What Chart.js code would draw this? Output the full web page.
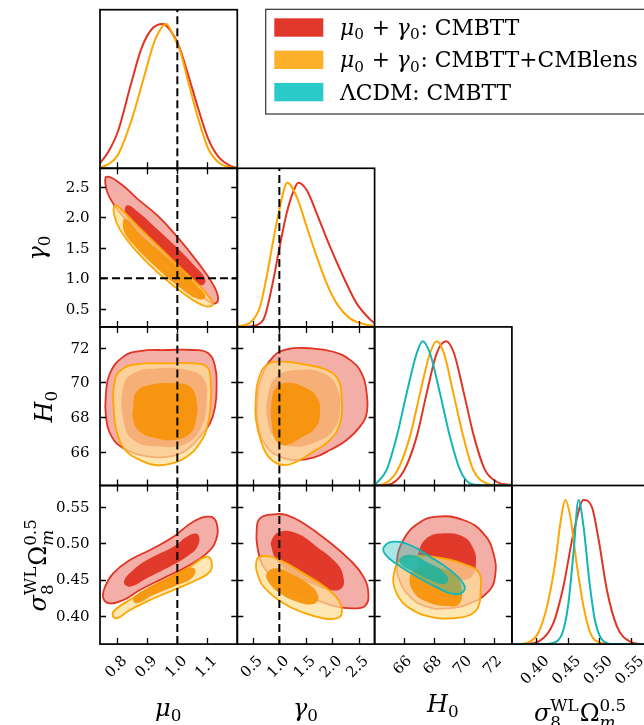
<!DOCTYPE html>
<html>
<head>
<meta charset="utf-8">
<script src="https://cdn.jsdelivr.net/npm/chart.js@4.4.1/dist/chart.umd.min.js"></script>
<style>
html, body { margin: 0; padding: 0; background: #fff; }
#fig { position: relative; width: 644px; height: 725px; overflow: hidden; background: #fff; }
#fig canvas { position: absolute; left: 0; top: 0; }
</style>
</head>
<body>
<div id="fig"></div>
<script>
// axes: 0 = mu0, 1 = gamma0, 2 = H0, 3 = sigma8^WL Omega_m^0.5
const axisRanges = [[0.742, 1.2], [0.205, 2.8], [64.07, 73.2], [0.3615, 0.579]];
const axisTicks = [[0.8, 0.9, 1.0, 1.1], [0.5, 1.0, 1.5, 2.0, 2.5], [66, 68, 70, 72], [0.40, 0.45, 0.50, 0.55]];
const axisTickLabels = [['0.8', '0.9', '1.0', '1.1'], ['0.5', '1.0', '1.5', '2.0', '2.5'], ['66', '68', '70', '72'], ['0.40', '0.45', '0.50', '0.55']];
const densityRange = [0, 1.1];
const fiducial = [1.0, 1.0, null, null]; // dashed reference lines

// 1D marginals (normalised to peak 1)
const muRed = [[0.742,0.035],[0.770,0.115],[0.802,0.257],[0.846,0.590],[0.880,0.830],[0.913,0.961],[0.952,1.0],[0.991,0.91],[1.008,0.834],[1.036,0.649],[1.069,0.418],[1.102,0.21],[1.136,0.083],[1.18,0.014],[1.2,0.003]];
const muOrange = [[0.742,0.003],[0.775,0.035],[0.802,0.094],[0.846,0.326],[0.891,0.649],[0.924,0.881],[0.963,1.0],[0.991,0.90],[1.008,0.823],[1.036,0.603],[1.069,0.349],[1.102,0.141],[1.136,0.044],[1.175,0.007],[1.2,0.001]];
const gammaRed = [[0.205,0],[0.45,0.002],[0.571,0.012],[0.697,0.05],[0.760,0.117],[0.886,0.325],[1.012,0.568],[1.138,0.788],[1.264,0.938],[1.359,1.0],[1.516,0.949],[1.705,0.788],[1.957,0.556],[2.209,0.348],[2.461,0.163],[2.714,0.052],[2.8,0.025]];
const gammaOrange = [[0.205,0.004],[0.445,0.029],[0.634,0.140],[0.760,0.348],[0.886,0.603],[1.012,0.834],[1.151,1.0],[1.327,0.903],[1.516,0.695],[1.705,0.487],[1.894,0.302],[2.083,0.163],[2.335,0.059],[2.588,0.020],[2.8,0.005]];
const h0Red = [[64.07,0],[64.87,0.003],[65.98,0.096],[66.87,0.339],[67.53,0.639],[68.20,0.917],[68.82,1.0],[69.35,0.917],[70.01,0.639],[70.68,0.339],[71.41,0.108],[72.19,0.026],[73.14,0.003],[73.2,0.002]];
const h0Orange = [[64.07,0],[64.43,0.003],[65.54,0.096],[66.42,0.339],[67.09,0.639],[67.75,0.917],[68.20,1.0],[68.68,0.917],[69.31,0.639],[69.97,0.339],[70.63,0.108],[71.52,0.015],[72.41,0.002],[73.2,0]];
const h0Cyan = [[64.07,0.002],[64.87,0.108],[65.54,0.339],[66.20,0.639],[66.87,0.917],[67.26,1.0],[67.75,0.917],[68.42,0.639],[69.08,0.339],[69.75,0.108],[70.41,0.015],[71.30,0.002],[73.2,0]];
const sigmaRed = [[0.3615,0],[0.380,0],[0.406,0.024],[0.427,0.144],[0.443,0.398],[0.459,0.768],[0.475,1.0],[0.488,0.953],[0.499,0.722],[0.512,0.375],[0.528,0.121],[0.549,0.017],[0.570,0],[0.579,0]];
const sigmaOrange = [[0.3615,0],[0.369,0],[0.390,0.017],[0.403,0.075],[0.417,0.260],[0.430,0.560],[0.439,0.861],[0.446,1.0],[0.454,0.884],[0.464,0.560],[0.475,0.260],[0.486,0.075],[0.501,0.010],[0.522,0],[0.579,0]];
const sigmaCyan = [[0.3615,0],[0.411,0],[0.432,0.017],[0.443,0.098],[0.451,0.283],[0.459,0.630],[0.467,1.0],[0.475,0.814],[0.484,0.444],[0.493,0.167],[0.504,0.033],[0.522,0],[0.579,0]];

// 2D contours (68% and 95%)
const muGamRed95 = [[0.766,2.663],[0.813,2.538],[0.869,2.292],[0.935,2.020],[1.002,1.665],[1.069,1.256],[1.119,0.901],[1.136,0.683],[1.127,0.590],[1.102,0.628],[1.058,0.820],[1.002,1.092],[0.935,1.420],[0.869,1.747],[0.813,2.047],[0.774,2.320],[0.760,2.538]];
const muGamRed68 = [[0.833,2.194],[0.869,2.085],[0.924,1.845],[0.991,1.540],[1.058,1.201],[1.093,0.983],[1.082,0.885],[1.041,1.010],[0.974,1.283],[0.908,1.583],[0.852,1.845],[0.826,2.074]];
const muGamOr95 = [[0.793,2.194],[0.819,2.10],[0.863,1.88],[0.930,1.56],[1.002,1.21],[1.069,0.90],[1.105,0.70],[1.119,0.574],[1.091,0.547],[1.024,0.738],[0.935,1.092],[0.858,1.474],[0.808,1.801],[0.789,2.047]];
const muGamOr68 = [[0.826,1.976],[0.880,1.70],[0.947,1.42],[1.013,1.13],[1.069,0.86],[1.093,0.70],[1.069,0.66],[1.002,0.874],[0.924,1.201],[0.858,1.529],[0.822,1.774]];

const muH0Red95 = [[0.775,70.53],[0.820,71.49],[0.875,71.81],[0.964,71.87],[1.053,71.87],[1.103,71.68],[1.126,70.91],[1.131,69.76],[1.126,68.61],[1.109,67.65],[1.075,66.88],[1.031,66.11],[0.987,65.77],[0.931,65.69],[0.875,65.83],[0.820,66.21],[0.781,66.88],[0.762,68.03],[0.762,69.38]];
const muH0Red68 = [[0.820,69.76],[0.853,70.53],[0.931,70.81],[1.031,70.72],[1.087,70.24],[1.098,68.99],[1.081,67.46],[1.031,66.50],[0.942,66.31],[0.853,66.69],[0.820,67.84]];
const muH0Or95 = [[0.792,70.14],[0.820,70.82],[0.875,71.07],[0.964,71.10],[1.053,71.10],[1.098,70.91],[1.111,70.14],[1.111,68.80],[1.100,67.46],[1.075,66.50],[1.031,65.73],[0.975,65.31],[0.925,65.25],[0.875,65.54],[0.831,66.02],[0.803,66.88],[0.789,68.22]];
const muH0Or68 = [[0.853,68.61],[0.864,69.47],[0.909,69.86],[0.987,69.95],[1.042,69.76],[1.064,68.99],[1.062,67.84],[1.042,67.07],[0.987,66.69],[0.931,66.79],[0.875,67.17],[0.853,67.84]];

const muSigRed95 = [[0.759,0.4403],[0.786,0.4586],[0.842,0.4768],[0.909,0.4905],[0.987,0.5088],[1.053,0.5294],[1.109,0.5363],[1.131,0.5271],[1.129,0.5043],[1.098,0.4860],[1.031,0.4677],[0.953,0.4517],[0.875,0.4357],[0.820,0.4220],[0.775,0.4174],[0.753,0.4243]];
const muSigRed68 = [[0.822,0.4471],[0.853,0.4631],[0.909,0.4791],[0.987,0.4951],[1.042,0.5111],[1.070,0.5111],[1.067,0.4951],[1.031,0.4814],[0.964,0.4654],[0.898,0.4517],[0.842,0.4403]];
const muSigOr95 = [[0.792,0.4083],[0.831,0.4197],[0.898,0.4357],[0.975,0.4517],[1.042,0.4677],[1.098,0.4814],[1.114,0.4746],[1.109,0.4608],[1.064,0.4494],[0.987,0.4357],[0.909,0.4220],[0.842,0.4083],[0.798,0.3969],[0.784,0.4014]];
const muSigOr68 = [[0.853,0.4243],[0.898,0.4380],[0.964,0.4517],[1.031,0.4654],[1.059,0.4640],[1.048,0.4517],[0.987,0.4403],[0.920,0.4289],[0.864,0.4174]];

const gamH0Red95 = [[0.666,70.34],[0.886,71.49],[1.138,71.91],[1.579,71.97],[2.020,71.77],[2.335,71.30],[2.556,70.53],[2.650,69.38],[2.650,68.23],[2.524,67.46],[2.273,66.69],[1.957,66.11],[1.642,65.67],[1.327,65.54],[1.012,65.73],[0.760,66.31],[0.603,67.46],[0.584,68.99]];
const gamH0Red68 = [[0.792,69.38],[0.949,70.34],[1.327,70.72],[1.831,70.53],[2.083,69.76],[2.146,68.42],[2.020,67.27],[1.705,66.59],[1.264,66.31],[0.949,66.69],[0.773,67.84]];
const gamH0Or95 = [[0.603,70.14],[0.760,71.01],[1.075,71.20],[1.516,71.01],[1.894,70.72],[2.115,70.14],[2.178,68.99],[2.146,67.65],[1.957,66.69],[1.642,66.02],[1.327,65.44],[1.075,65.25],[0.823,65.63],[0.666,66.50],[0.558,67.84],[0.558,69.19]];
const gamH0Or68 = [[0.855,68.99],[0.949,69.76],[1.138,69.99],[1.453,69.76],[1.705,69.18],[1.768,68.22],[1.674,67.36],[1.390,66.79],[1.138,66.40],[0.949,66.59],[0.855,67.65]];

const gamSigRed95 = [[0.571,0.5180],[0.634,0.5340],[0.886,0.5394],[1.138,0.5385],[1.453,0.5271],[1.894,0.5043],[2.335,0.4768],[2.588,0.4540],[2.682,0.4311],[2.619,0.4138],[2.398,0.4105],[2.083,0.4128],[1.705,0.4220],[1.264,0.4357],[0.949,0.4494],[0.697,0.4677],[0.584,0.4951]];
const gamSigRed68 = [[0.855,0.5043],[1.012,0.5157],[1.327,0.5134],[1.705,0.4951],[2.083,0.4723],[2.209,0.4540],[2.178,0.4380],[1.957,0.4357],[1.579,0.4448],[1.201,0.4585],[0.949,0.4768],[0.855,0.4928]];
const gamSigOr95 = [[0.571,0.4768],[0.697,0.4823],[1.012,0.4768],[1.453,0.4585],[1.894,0.4380],[2.134,0.4197],[2.178,0.4037],[2.083,0.3968],[1.831,0.3968],[1.453,0.4046],[1.075,0.4174],[0.760,0.4357],[0.603,0.4540]];
const gamSigOr68 = [[0.760,0.4585],[0.949,0.4654],[1.264,0.4563],[1.579,0.4425],[1.737,0.4265],[1.642,0.4165],[1.327,0.4197],[1.012,0.4311],[0.792,0.4471]];

const h0SigRed95 = [[65.54,0.4723],[65.98,0.5043],[66.98,0.5271],[68.20,0.5363],[69.97,0.5317],[71.30,0.5134],[71.97,0.4860],[72.08,0.4540],[71.63,0.4334],[70.41,0.4174],[68.86,0.4105],[67.53,0.4128],[66.42,0.4265],[65.72,0.4494]];
const h0SigRed68 = [[66.98,0.4860],[67.53,0.5065],[68.64,0.5134],[69.97,0.5088],[70.63,0.4928],[70.81,0.4723],[70.52,0.4540],[69.75,0.4494],[68.64,0.4517],[67.53,0.4585],[66.98,0.4700]];
const h0SigOr95 = [[65.36,0.4585],[65.76,0.4768],[66.87,0.4823],[68.64,0.4791],[70.19,0.4700],[71.03,0.4585],[71.12,0.4357],[70.97,0.4128],[70.41,0.4014],[69.08,0.3968],[67.75,0.3991],[66.42,0.4105],[65.65,0.4265],[65.32,0.4448]];
const h0SigOr68 = [[66.42,0.4540],[66.87,0.4654],[68.20,0.4668],[69.53,0.4540],[69.86,0.4357],[69.70,0.4165],[68.86,0.4137],[67.53,0.4197],[66.65,0.4334]];
const h0SigCy95 = [[64.70,0.4951],[65.32,0.5020],[66.42,0.4974],[67.75,0.4814],[69.08,0.4631],[69.97,0.4448],[69.97,0.4334],[69.31,0.4302],[68.20,0.4393],[66.87,0.4540],[65.54,0.4713],[64.76,0.4850]];
const h0SigCy68 = [[65.76,0.4791],[66.54,0.4837],[67.53,0.4745],[68.64,0.4608],[68.97,0.4494],[68.64,0.4439],[67.75,0.4494],[66.65,0.4608],[65.87,0.4700]];

// legend text and axis titles (pieces: t = text, it = italic, sub/sup = scripts)
const legendLabels = [
  [{t:'μ',it:true},{sub:'0'},{t:' + '},{t:'γ',it:true},{sub:'0'},{t:': CMBTT'}],
  [{t:'μ',it:true},{sub:'0'},{t:' + '},{t:'γ',it:true},{sub:'0'},{t:': CMBTT+CMBlens'}],
  [{t:'ΛCDM: CMBTT'}]
];
const legendColors = ['#e0382a', '#fdb02a', '#2acaca'];
const axisTitles = [
  [{t:'μ',it:true},{sub:'0'}],
  [{t:'γ',it:true},{sub:'0'}],
  [{t:'H',it:true},{sub:'0'}],
  [{t:'σ',it:true},{sup:'WL',sub:'8'},{t:'Ω'},{sup:'0.5',sub:'m',subIt:true}]
];

const styles = {
  red:    {line:'#e03424', c95:'rgba(224,52,36,0.4)',   c68:'rgba(224,52,36,0.95)'},
  orange: {line:'#ffa500', c95:'rgba(254,222,150,0.72)', c68:'rgba(246,146,8,0.92)'},
  cyan:   {line:'#13b5b5', c95:'rgba(40,195,195,0.4)',  c68:'rgba(20,180,165,0.8)'}
};

const marginals = {
  0: [['red', muRed], ['orange', muOrange]],
  1: [['red', gammaRed], ['orange', gammaOrange]],
  2: [['red', h0Red], ['orange', h0Orange], ['cyan', h0Cyan]],
  3: [['red', sigmaRed], ['orange', sigmaOrange], ['cyan', sigmaCyan]]
};
const contours = {
  '0-1': [['red', muGamRed95, muGamRed68], ['orange', muGamOr95, muGamOr68]],
  '0-2': [['red', muH0Red95, muH0Red68], ['orange', muH0Or95, muH0Or68]],
  '0-3': [['red', muSigRed95, muSigRed68], ['orange', muSigOr95, muSigOr68]],
  '1-2': [['red', gamH0Red95, gamH0Red68], ['orange', gamH0Or95, gamH0Or68]],
  '1-3': [['red', gamSigRed95, gamSigRed68], ['orange', gamSigOr95, gamSigOr68]],
  '2-3': [['red', h0SigRed95, h0SigRed68], ['orange', h0SigOr95, h0SigOr68], ['cyan', h0SigCy95, h0SigCy68]]
};

// figure layout
const colEdges = [100, 237.3, 374.6, 511.9, 649.2];
const rowEdges = [9.7, 168.3, 326.9, 485.5, 644.1];
const CW = 660, CH = 725;
const FONT = '"DejaVu Serif", serif';

const pts = arr => arr.map(p => ({x: p[0], y: p[1]}));

function font(size, it) { return (it ? 'italic ' : '') + size + 'px ' + FONT; }

function mathWidth(ctx, parts, size) {
  let w = 0;
  for (const p of parts) {
    if (p.t !== undefined) { ctx.font = font(size, p.it); w += ctx.measureText(p.t).width; continue; }
    const s = size * 0.7;
    ctx.font = font(s, false);
    const a = p.sup ? ctx.measureText(p.sup).width : 0;
    ctx.font = font(s, p.subIt);
    const b = p.sub ? ctx.measureText(p.sub).width : 0;
    w += Math.max(a, b) + size * 0.04;
  }
  return w;
}

function drawMath(ctx, parts, x, y, size, align, rot) {
  ctx.save();
  ctx.translate(x, y);
  if (rot) ctx.rotate(rot);
  ctx.fillStyle = '#000';
  ctx.textAlign = 'left';
  ctx.textBaseline = 'alphabetic';
  let cx = align === 'center' ? -mathWidth(ctx, parts, size) / 2 : 0;
  for (const p of parts) {
    if (p.t !== undefined) {
      ctx.font = font(size, p.it);
      ctx.fillText(p.t, cx, 0);
      cx += ctx.measureText(p.t).width;
      continue;
    }
    const s = size * 0.7;
    const both = p.sup && p.sub;
    let w = 0;
    if (p.sup) {
      ctx.font = font(s, false);
      ctx.fillText(p.sup, cx, -size * 0.42);
      w = Math.max(w, ctx.measureText(p.sup).width);
    }
    if (p.sub) {
      ctx.font = font(s, p.subIt);
      ctx.fillText(p.sub, cx, size * (both ? 0.3 : 0.2));
      w = Math.max(w, ctx.measureText(p.sub).width);
    }
    cx += w + size * 0.04;
  }
  ctx.restore();
}

// closes contour lines smoothly (same trick the radar chart uses)
const loopPlugin = {
  id: 'loop',
  afterDatasetUpdate(chart, args) {
    const ds = chart.data.datasets[args.index];
    const line = args.meta.dataset;
    if (!ds.closed || !line) return;
    line._loop = true;
    line._fullLoop = true;
    line._pointsUpdated = false;
    line._segments = undefined;
    line._path = undefined;
  }
};

function makeFrame(p) {
  const diag = p.c === p.r;
  return {
    id: 'frame',
    afterDraw(chart) {
      const ctx = chart.ctx, a = chart.chartArea;
      const xs = chart.scales.x, ys = chart.scales.y;
      ctx.save();
      ctx.strokeStyle = '#000';
      ctx.lineWidth = 1.3;
      ctx.beginPath();
      for (const v of axisTicks[p.c]) {
        const x = Math.round(xs.getPixelForValue(v)) + 0.5;
        ctx.moveTo(x, a.bottom); ctx.lineTo(x, a.bottom - 6);
        if (!diag) { ctx.moveTo(x, a.top); ctx.lineTo(x, a.top + 6); }
      }
      if (!diag) {
        for (const v of axisTicks[p.r]) {
          const y = Math.round(ys.getPixelForValue(v)) + 0.5;
          ctx.moveTo(a.left, y); ctx.lineTo(a.left + 6, y);
          ctx.moveTo(a.right, y); ctx.lineTo(a.right - 6, y);
        }
      }
      ctx.stroke();
      ctx.lineWidth = 1.7;
      ctx.strokeRect(a.left, a.top, a.right - a.left, a.bottom - a.top);

      ctx.fillStyle = '#000';
      ctx.font = font(15, false);
      if (p.r === 3) {
        axisTicks[p.c].forEach((v, i) => {
          const s = axisTickLabels[p.c][i];
          const x = xs.getPixelForValue(v);
          const d = (ctx.measureText(s).width + 10) / (2 * Math.SQRT2);
          ctx.save();
          ctx.translate(x - 1, a.bottom + 11 + d);
          ctx.rotate(-Math.PI / 4);
          ctx.textAlign = 'center';
          ctx.textBaseline = 'middle';
          ctx.fillText(s, 0, 0);
          ctx.restore();
        });
        const base = [716, 716, 712, 721][p.c];
        drawMath(ctx, axisTitles[p.c], (a.left + a.right) / 2, base, 24, 'center');
      }
      if (p.c === 0 && p.r > 0) {
        ctx.textAlign = 'right';
        ctx.textBaseline = 'middle';
        axisTicks[p.r].forEach((v, i) => {
          ctx.fillText(axisTickLabels[p.r][i], a.left - 10.5, ys.getPixelForValue(v) + 1);
        });
        const bx = [0, 45, 52, 46][p.r];
        drawMath(ctx, axisTitles[p.r], bx, (a.top + a.bottom) / 2, 24, 'center', -Math.PI / 2);
      }
      if (p.c === 0 && p.r === 0) {
        // figure legend
        ctx.lineWidth = 1.2;
        ctx.strokeStyle = '#333';
        ctx.strokeRect(265.7, 9.3, 440, 104.7);
        legendLabels.forEach((lab, i) => {
          const cy = 27.5 + i * 32.3;
          ctx.fillStyle = legendColors[i];
          ctx.fillRect(274.3, cy - 9.2, 49, 18.4);
          drawMath(ctx, lab, 340, cy + 7.5, 21.8, 'left');
        });
      }
      ctx.restore();
    }
  };
}

function buildDatasets(p) {
  const ds = [];
  const [xmin, xmax] = axisRanges[p.c];
  const [ymin, ymax] = p.c === p.r ? densityRange : axisRanges[p.r];
  if (p.c === p.r) {
    for (const [col, arr] of marginals[p.c]) {
      ds.push({data: pts(arr), showLine: true, borderColor: styles[col].line, borderWidth: 2,
        pointRadius: 0, fill: false, cubicInterpolationMode: 'monotone'});
    }
  } else {
    for (const [col, c95, c68] of contours[p.c + '-' + p.r]) {
      ds.push({data: pts(c95), closed: true, showLine: true, tension: 0.45, borderColor: styles[col].line,
        borderWidth: 1.8, backgroundColor: styles[col].c95, fill: 'shape', pointRadius: 0});
      ds.push({data: pts(c68), closed: true, showLine: true, tension: 0.45, borderColor: 'rgba(0,0,0,0)',
        borderWidth: 0, backgroundColor: styles[col].c68, fill: 'shape', pointRadius: 0});
    }
  }
  const dash = {showLine: true, borderColor: '#000', borderWidth: 2, borderDash: [8, 4], pointRadius: 0, fill: false, tension: 0};
  if (fiducial[p.c] !== null) {
    ds.push(Object.assign({data: [{x: fiducial[p.c], y: ymin}, {x: fiducial[p.c], y: ymax}]}, dash));
  }
  if (p.c !== p.r && fiducial[p.r] !== null) {
    ds.push(Object.assign({data: [{x: xmin, y: fiducial[p.r]}, {x: xmax, y: fiducial[p.r]}]}, dash));
  }
  // later datasets go on top
  ds.forEach((d, i) => { d.order = ds.length - i; });
  return {ds, xmin, xmax, ymin, ymax};
}

const panels = [];
for (let r = 0; r < 4; r++) for (let c = 0; c <= r; c++) panels.push({c, r});

const fig = document.getElementById('fig');
for (const p of panels) {
  const canvas = document.createElement('canvas');
  canvas.width = CW; canvas.height = CH;
  canvas.style.width = CW + 'px'; canvas.style.height = CH + 'px';
  fig.appendChild(canvas);
  const {ds, xmin, xmax, ymin, ymax} = buildDatasets(p);
  new Chart(canvas, {
    type: 'scatter',
    data: {datasets: ds},
    options: {
      responsive: false,
      animation: false,
      devicePixelRatio: 1,
      events: [],
      layout: {padding: {left: colEdges[p.c], top: rowEdges[p.r], right: CW - colEdges[p.c + 1], bottom: CH - rowEdges[p.r + 1]}},
      scales: {
        x: {type: 'linear', display: false, min: xmin, max: xmax},
        y: {type: 'linear', display: false, min: ymin, max: ymax}
      },
      plugins: {legend: {display: false}, tooltip: {enabled: false}}
    },
    plugins: [loopPlugin, makeFrame(p)]
  });
}
</script>
</body>
</html>
